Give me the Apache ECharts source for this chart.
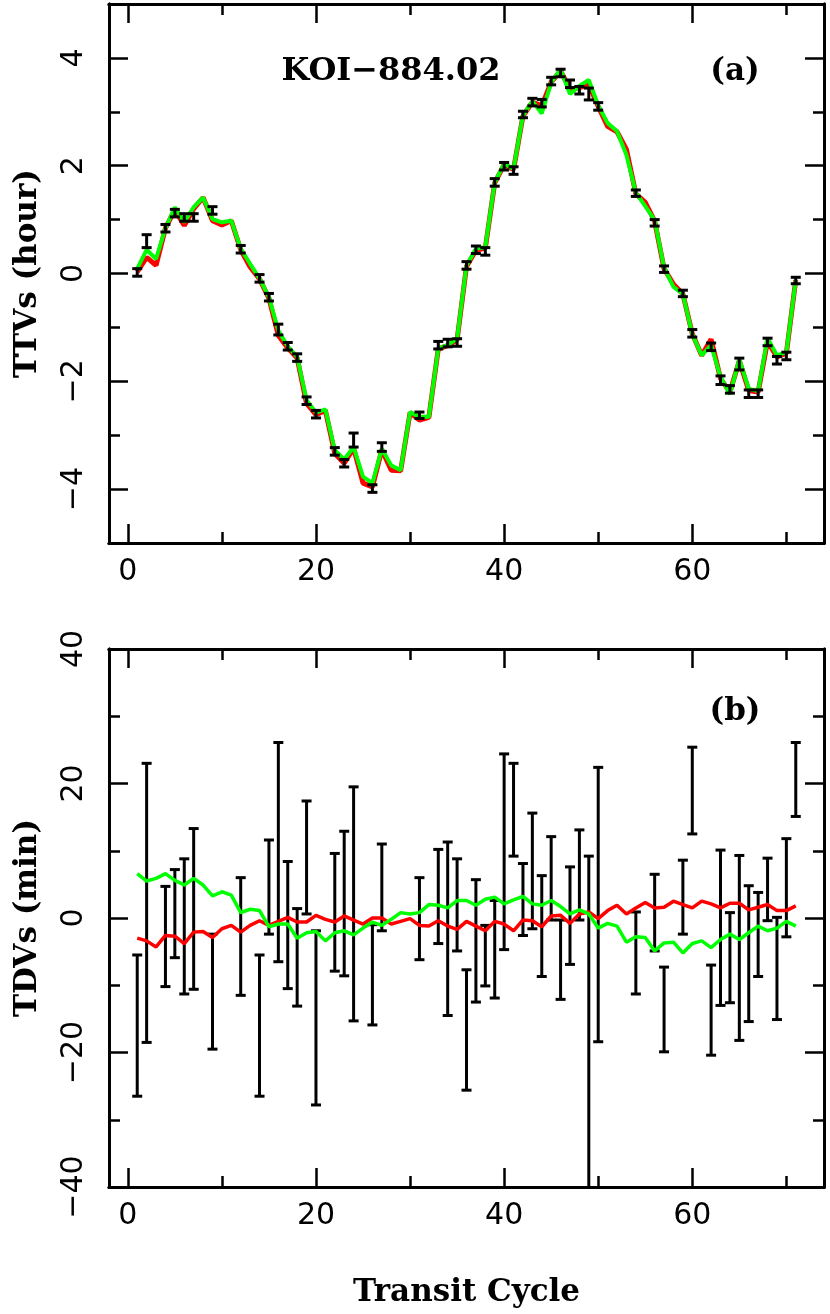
<!DOCTYPE html>
<html>
<head>
<meta charset="utf-8">
<title>KOI-884.02 TTVs / TDVs</title>
<script src="https://cdn.jsdelivr.net/npm/echarts@6/dist/echarts.min.js"></script>
<style>
  html, body { margin: 0; padding: 0; background: #fff; }
  #chart { width: 830px; height: 1314px; }
</style>
</head>
<body>
<div id="chart"></div>
<script>
// transit cycles where the model curves are evaluated
var modelCycles = [1,2,3,4,5,6,7,8,9,10,11,12,13,14,15,16,17,18,19,20,21,22,23,24,25,26,27,28,29,30,
    31,32,33,34,35,36,37,38,39,40,41,42,43,44,45,46,47,48,49,50,51,52,53,54,55,56,57,58,59,60,
    61,62,63,64,65,66,67,68,69,70,71];

// transit cycles with a measured transit
var obsCycles = [1,2,4,5,6,7,9,12,14,15,16,17,18,19,20,22,23,24,26,27,31,33,34,35,36,37,38,39,40,
    41,42,43,44,45,46,47,48,49,50,54,56,57,59,60,62,63,64,65,66,67,68,69,70,71];

// (a) TTVs in hours
var ttvObs = [0.02,0.60,0.84,1.12,1.04,1.04,1.17,0.45,-0.09,-0.44,-1.04,-1.35,-1.56,-2.36,-2.61,
    -3.30,-3.52,-3.09,-3.99,-3.22,-2.63,-1.33,-1.29,-1.28,0.15,0.44,0.41,1.69,1.99,1.91,2.95,3.18,
    3.16,3.57,3.72,3.52,3.40,3.33,3.10,1.49,0.94,0.08,-0.37,-1.11,-1.36,-1.98,-2.15,-1.68,-2.23,
    -2.23,-1.27,-1.61,-1.53,-0.13];
var ttvErr = [0.07,0.12,0.07,0.07,0.07,0.07,0.07,0.07,0.07,0.07,0.10,0.07,0.07,0.07,0.07,0.07,
    0.07,0.13,0.07,0.08,0.06,0.07,0.07,0.07,0.07,0.07,0.07,0.07,0.07,0.07,0.06,0.07,0.07,0.07,
    0.07,0.07,0.07,0.11,0.07,0.06,0.06,0.06,0.06,0.07,0.07,0.08,0.07,0.11,0.07,0.07,0.07,0.07,
    0.07,0.06];
var ttvRed = [0.03,0.30,0.15,0.84,1.18,0.89,1.20,1.41,0.98,0.90,0.98,0.44,0.12,-0.10,-0.46,-1.15,
    -1.38,-1.57,-2.41,-2.62,-2.54,-3.34,-3.52,-3.24,-3.89,-3.96,-3.27,-3.65,-3.66,-2.58,-2.72,
    -2.67,-1.40,-1.34,-1.23,0.13,0.43,0.47,1.68,2.02,1.93,2.92,3.18,3.11,3.55,3.76,3.42,3.45,3.51,
    3.10,2.73,2.63,2.30,1.48,1.32,0.97,0.09,-0.20,-0.38,-1.12,-1.52,-1.22,-1.95,-2.20,-1.62,-2.17,
    -2.20,-1.26,-1.55,-1.48,-0.12];
var ttvGreen = [0.09,0.44,0.27,0.84,1.23,0.95,1.23,1.41,1.01,0.95,0.98,0.46,0.18,-0.09,-0.44,-1.06,
    -1.35,-1.55,-2.35,-2.58,-2.52,-3.28,-3.45,-3.22,-3.77,-3.89,-3.25,-3.56,-3.65,-2.57,-2.66,
    -2.66,-1.39,-1.33,-1.21,0.15,0.46,0.49,1.69,2.04,1.94,2.93,3.20,2.97,3.54,3.79,3.33,3.48,3.59,
    3.12,2.79,2.64,2.20,1.50,1.25,0.99,0.11,-0.25,-0.38,-1.13,-1.52,-1.33,-1.92,-2.24,-1.59,-2.14,
    -2.18,-1.20,-1.52,-1.46,-0.12];

// (b) TDVs in minutes: bottom and top of each error bar
var tdvLow = [-26.5,-18.5,-10.2,-5.9,-11.3,-10.6,-19.5,-11.5,-26.5,-2.4,-6.5,-10.5,-13.1,0.6,-27.8,
    -7.9,-8.6,-15.3,-15.9,-1.9,-6.2,-3.8,-14.5,-4.9,-25.6,-12.5,-10.1,-11.9,-4.7,9.2,-2.6,-1.6,
    -8.7,-0.3,-12.1,-6.9,-0.3,-46.0,-18.4,-11.3,-4.9,-19.9,-2.4,12.5,-20.4,-13.0,-12.6,-18.2,
    -15.4,-8.7,-0.4,-15.1,-2.8,15.1];
var tdvHigh = [-5.5,23.0,4.7,7.2,8.8,13.3,-2.4,6.0,-5.5,11.6,26.1,8.4,1.4,17.4,-1.9,9.6,12.9,19.5,
    -1.0,11.0,6.0,10.2,11.3,8.8,-7.7,5.7,-1.1,2.6,24.4,23.0,8.1,15.6,6.3,12.1,-0.3,7.6,13.1,9.2,
    22.4,0.9,6.5,-7.3,8.6,25.4,-7.0,10.1,0.8,9.3,4.8,3.8,8.9,0.1,11.8,26.1];
var tdvRed = [-3.0,-3.4,-4.3,-2.6,-2.7,-3.8,-2.1,-2.0,-2.9,-1.6,-1.1,-2.1,-1.1,-0.4,-1.1,-0.5,0.1,
    -0.6,-0.6,0.4,-0.2,-0.6,0.3,-0.3,-0.9,0.0,0.0,-0.9,-0.5,-0.1,-1.1,-1.2,-0.4,-1.2,-1.7,-0.5,
    -1.2,-1.9,-0.5,-0.9,-1.9,-0.3,-0.4,-1.3,0.3,0.4,-0.8,0.6,0.9,-0.1,1.1,1.9,0.6,1.5,2.3,1.5,
    1.6,2.5,2.0,1.5,2.5,2.1,1.5,2.2,2.2,1.2,1.6,2.0,1.1,1.1,1.8];
var tdvGreen = [6.6,5.5,5.9,6.6,5.6,4.9,5.9,4.9,3.3,3.9,3.4,0.8,1.3,1.1,-1.3,-0.9,-0.9,-3.0,-2.2,
    -2.0,-3.4,-2.2,-1.9,-2.5,-1.5,-0.6,-1.1,-0.2,0.8,0.6,0.8,2.0,1.9,1.5,2.6,2.6,1.9,2.8,3.1,2.1,
    2.7,3.2,2.1,1.9,2.6,1.7,0.6,1.2,0.6,-1.5,-0.8,-1.2,-3.6,-2.8,-2.9,-4.9,-3.7,-3.6,-5.2,-3.8,
    -3.4,-4.4,-3.2,-2.4,-3.2,-2.2,-1.2,-1.9,-1.5,-0.5,-1.2];

// tick positions / labels
var xMajor = [0, 20, 40, 60];
var xMinor = [10, 30, 50, 70];
var ttvMajor = [-4, -2, 0, 2, 4];
var ttvMinor = [-3, -1, 1, 3];
var tdvMajor = [-40, -20, 0, 20, 40];
var tdvMinor = [-30, -10, 10, 30];

var tickFont = 'DejaVu Sans';
var titleFont = 'DejaVu Serif';

function pairs(xs, ys) {
    var out = [];
    for (var i = 0; i < xs.length; i++) out.push([xs[i], ys[i]]);
    return out;
}

function fmtMinus(v) {
    return String(v).replace('-', '\u2212');
}

// one axis of a frame side; major/minor ticks get separate axes
function frameAxis(kind, gridIndex, position, min, max, ticks, tickLen, labels) {
    var ax = {
        type: 'value',
        gridIndex: gridIndex,
        position: position,
        min: min,
        max: max,
        axisLine: { show: true, onZero: false, lineStyle: { color: '#000', width: 3 } },
        axisTick: { show: true, inside: true, length: tickLen, customValues: ticks,
            lineStyle: { color: '#000', width: 2.5 } },
        axisLabel: { show: false },
        splitLine: { show: false },
        minorTick: { show: false }
    };
    if (labels) {
        ax.axisLabel = {
            show: true,
            customValues: ticks,
            color: '#000',
            fontFamily: tickFont,
            fontSize: 30,
            formatter: fmtMinus
        };
        if (kind === 'y') {
            ax.axisLabel.rotate = 90;
            ax.axisLabel.margin = 20;
        } else {
            ax.axisLabel.margin = 14;
        }
    }
    return ax;
}

var xAxes = [];
var yAxes = [];
[0, 1].forEach(function (g) {
    xAxes.push(frameAxis('x', g, 'bottom', -2, 74, xMajor, 19, true));
    xAxes.push(frameAxis('x', g, 'bottom', -2, 74, xMinor, 11, false));
    xAxes.push(frameAxis('x', g, 'top', -2, 74, xMajor, 19, false));
    xAxes.push(frameAxis('x', g, 'top', -2, 74, xMinor, 11, false));
});
yAxes.push(frameAxis('y', 0, 'left', -5, 5, ttvMajor, 19, true));
yAxes.push(frameAxis('y', 0, 'left', -5, 5, ttvMinor, 11, false));
yAxes.push(frameAxis('y', 0, 'right', -5, 5, ttvMajor, 19, false));
yAxes.push(frameAxis('y', 0, 'right', -5, 5, ttvMinor, 11, false));
yAxes.push(frameAxis('y', 1, 'left', -40, 40, tdvMajor, 19, true));
yAxes.push(frameAxis('y', 1, 'left', -40, 40, tdvMinor, 11, false));
yAxes.push(frameAxis('y', 1, 'right', -40, 40, tdvMajor, 19, false));
yAxes.push(frameAxis('y', 1, 'right', -40, 40, tdvMinor, 11, false));

var nameStyle = { color: '#000', fontFamily: titleFont, fontWeight: 'bold', fontSize: 31 };
yAxes[0].name = 'TTVs (hour)';
yAxes[0].nameLocation = 'middle';
yAxes[0].nameGap = 66;
yAxes[0].nameTextStyle = nameStyle;
yAxes[4].name = 'TDVs (min)';
yAxes[4].nameLocation = 'middle';
yAxes[4].nameGap = 66;
yAxes[4].nameTextStyle = nameStyle;
xAxes[4].name = 'Transit Cycle';
xAxes[4].nameLocation = 'middle';
xAxes[4].nameGap = 90;
xAxes[4].nameTextStyle = nameStyle;

// vertical error bar with short caps, drawn through the axis scales
function errorBar(capHalf, width) {
    return function (params, api) {
        var x = api.value(0);
        var lo = api.coord([x, api.value(1)]);
        var hi = api.coord([x, api.value(2)]);
        var st = { stroke: '#000', lineWidth: width };
        return {
            type: 'group',
            children: [
                { type: 'line', shape: { x1: lo[0], y1: lo[1], x2: hi[0], y2: hi[1] }, style: st },
                { type: 'line', shape: { x1: lo[0] - capHalf, y1: lo[1], x2: lo[0] + capHalf, y2: lo[1] }, style: st },
                { type: 'line', shape: { x1: hi[0] - capHalf, y1: hi[1], x2: hi[0] + capHalf, y2: hi[1] }, style: st }
            ]
        };
    };
}

var ttvBars = [];
for (var i = 0; i < obsCycles.length; i++) {
    ttvBars.push([obsCycles[i], ttvObs[i] - ttvErr[i], ttvObs[i] + ttvErr[i]]);
}
var tdvBars = [];
for (var j = 0; j < obsCycles.length; j++) {
    tdvBars.push([obsCycles[j], tdvLow[j], tdvHigh[j]]);
}

var myChart = echarts.init(document.getElementById('chart'), null, { renderer: 'canvas' });
myChart.setOption({
    animation: false,
    backgroundColor: '#fff',
    grid: [
        { left: 109, right: 6, top: 4, height: 539, outerBoundsMode: 'none' },
        { left: 109, right: 6, top: 649, height: 538, outerBoundsMode: 'none' }
    ],
    xAxis: xAxes,
    yAxis: yAxes,
    graphic: [
        { type: 'text', x: 391, y: 72, z: 10,
          style: { text: 'KOI\u2212884.02', fill: '#000', font: 'bold 32px "DejaVu Serif"',
                   align: 'center', verticalAlign: 'middle' } },
        { type: 'text', x: 735, y: 72, z: 10,
          style: { text: '(a)', fill: '#000', font: 'bold 31px "DejaVu Serif"',
                   align: 'center', verticalAlign: 'middle' } },
        { type: 'text', x: 735, y: 712, z: 10,
          style: { text: '(b)', fill: '#000', font: 'bold 31px "DejaVu Serif"',
                   align: 'center', verticalAlign: 'middle' } }
    ],
    series: [
        {
            name: 'TTV model red', type: 'line', xAxisIndex: 0, yAxisIndex: 0,
            data: pairs(modelCycles, ttvRed), showSymbol: false, z: 2,
            lineStyle: { color: '#ff0000', width: 5 }
        },
        {
            name: 'TTV model green', type: 'line', xAxisIndex: 0, yAxisIndex: 0,
            data: pairs(modelCycles, ttvGreen), showSymbol: false, z: 3,
            lineStyle: { color: '#00ff00', width: 4 }
        },
        {
            name: 'TTV obs', type: 'custom', xAxisIndex: 0, yAxisIndex: 0,
            data: ttvBars, renderItem: errorBar(5, 3), z: 4,
            encode: { x: 0, y: [1, 2] }
        },
        {
            name: 'TDV obs', type: 'custom', xAxisIndex: 4, yAxisIndex: 4,
            data: tdvBars, renderItem: errorBar(5, 3), z: 2, clip: true,
            encode: { x: 0, y: [1, 2] }
        },
        {
            name: 'TDV model red', type: 'line', xAxisIndex: 4, yAxisIndex: 4,
            data: pairs(modelCycles, tdvRed), showSymbol: false, z: 3,
            lineStyle: { color: '#ff0000', width: 3.5 }
        },
        {
            name: 'TDV model green', type: 'line', xAxisIndex: 4, yAxisIndex: 4,
            data: pairs(modelCycles, tdvGreen), showSymbol: false, z: 4,
            lineStyle: { color: '#00ff00', width: 3.5 }
        }
    ]
});
</script>
</body>
</html>
